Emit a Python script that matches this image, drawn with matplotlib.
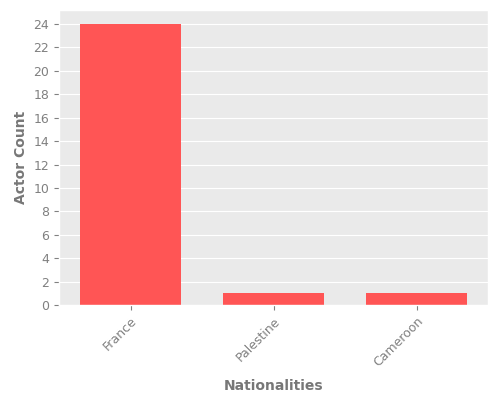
import matplotlib
matplotlib.use("Agg")
import matplotlib.pyplot as plt

# ---------------- Data ----------------
nationalities = ["France", "Palestine", "Cameroon"]
actor_counts = [24, 1, 1]

plt.style.use("ggplot")

fig, ax = plt.subplots(figsize=(5, 4), dpi=100)
fig.subplots_adjust(left=0.118, right=0.976, top=0.975, bottom=0.2375)
ax.set_facecolor("#eaeaea")
ax.bar(nationalities, actor_counts, width=0.7, color="#ff5555")
ax.set_xlim(-0.5, len(nationalities) - 0.5)
ax.set_yticks(range(0, 25, 2))
ax.grid(axis="x", visible=False)
ax.grid(axis="y", color="white", linewidth=0.8)

ax.set_xlabel("Nationalities", fontsize=10, fontweight="bold", color="#777777", labelpad=7)
ax.set_ylabel("Actor Count", fontsize=10, fontweight="bold", color="#777777")
ax.tick_params(axis="x", labelrotation=45, colors="#808080", labelsize=9)
ax.tick_params(axis="y", colors="#808080", labelsize=9)
plt.setp(ax.get_xticklabels(), ha="right", rotation_mode="anchor")

plt.savefig("out.png")
